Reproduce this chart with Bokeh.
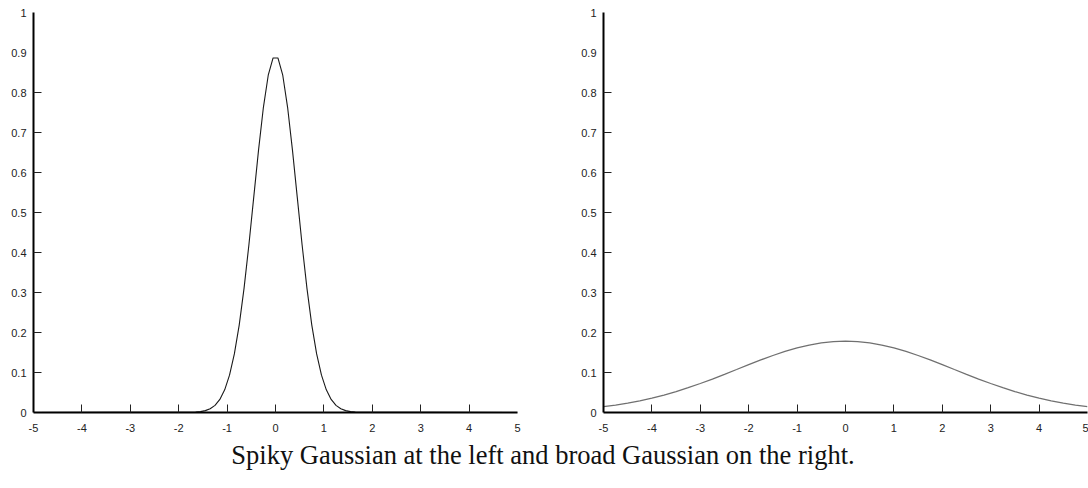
from bokeh.plotting import figure
from bokeh.layouts import column, row
from bokeh.models import Range1d, FixedTicker, CustomJSTickFormatter, Div
from bokeh.embed import file_html
from bokeh.resources import INLINE

# ---- data ----
spiky_x = [-5.0, -1.65, -1.55, -1.45, -1.35, -1.25, -1.15, -1.05, -0.95, -0.85, -0.75,
           -0.65, -0.55, -0.45, -0.35, -0.25, -0.15, -0.05, 0.05, 0.15, 0.25, 0.35,
           0.45, 0.55, 0.65, 0.75, 0.85, 0.95, 1.05, 1.15, 1.25, 1.35, 1.45, 1.55, 1.65, 5.0]
spiky_y = [0.0, 0.001, 0.0022, 0.0047, 0.0094, 0.0179, 0.0327, 0.0567, 0.0934, 0.1465, 0.2186,
           0.3102, 0.4187, 0.5377, 0.6567, 0.763, 0.8432, 0.8864, 0.8864, 0.8432, 0.763, 0.6567,
           0.5377, 0.4187, 0.3102, 0.2186, 0.1465, 0.0934, 0.0567, 0.0327, 0.0179, 0.0094, 0.0047,
           0.0022, 0.001, 0.0]

broad_x = [-5.0, -4.75, -4.5, -4.25, -4.0, -3.75, -3.5, -3.25, -3.0, -2.75, -2.5, -2.25, -2.0,
           -1.75, -1.5, -1.25, -1.0, -0.75, -0.5, -0.25, 0.0, 0.25, 0.5, 0.75, 1.0, 1.25, 1.5,
           1.75, 2.0, 2.25, 2.5, 2.75, 3.0, 3.25, 3.5, 3.75, 4.0, 4.25, 4.5, 4.75, 5.0]
broad_y = [0.0146, 0.0187, 0.0235, 0.0293, 0.036, 0.0437, 0.0524, 0.062, 0.0725, 0.0837, 0.0955,
           0.1075, 0.1196, 0.1313, 0.1425, 0.1526, 0.1614, 0.1686, 0.174, 0.1773, 0.1784, 0.1773,
           0.174, 0.1686, 0.1614, 0.1526, 0.1425, 0.1313, 0.1196, 0.1075, 0.0955, 0.0837, 0.0725,
           0.062, 0.0524, 0.0437, 0.036, 0.0293, 0.0235, 0.0187, 0.0146]

x_label_ticks = [-5, -4, -3, -2, -1, 0, 1, 2, 3, 4, 5]
x_mark_ticks = [-4, -3, -2, -1, 0, 1, 2, 3, 4]
y_label_ticks = [0, 0.1, 0.2, 0.3, 0.4, 0.5, 0.6, 0.7, 0.8, 0.9, 1]
y_mark_ticks = [0.1, 0.2, 0.3, 0.4, 0.5, 0.6, 0.7, 0.8]

caption = "Spiky Gaussian at the left and broad Gaussian on the right."

LABEL_FONT = "Liberation Sans"


def make_fig(width, left, right):
    p = figure(width=width, height=442, output_backend="svg", toolbar_location=None,
               x_range=Range1d(-5, 5), y_range=Range1d(0, 1),
               min_border_left=left, min_border_right=right,
               min_border_top=12, min_border_bottom=30)
    p.outline_line_color = None
    p.grid.visible = False
    fmt = CustomJSTickFormatter(code="return String(Math.round(tick*10)/10);")
    p.xaxis.ticker = FixedTicker(ticks=x_label_ticks, minor_ticks=x_mark_ticks)
    p.yaxis.ticker = FixedTicker(ticks=y_label_ticks, minor_ticks=y_mark_ticks)
    p.xaxis.formatter = fmt
    p.yaxis.formatter = fmt
    for ax in (p.xaxis, p.yaxis):
        ax.axis_line_color = "#000000"
        ax.axis_line_width = 2
        ax.major_tick_in = 0
        ax.major_tick_out = 0
        ax.minor_tick_in = 8
        ax.minor_tick_out = 0
        ax.minor_tick_line_color = "#222222"
        ax.minor_tick_line_width = 1
        ax.major_label_text_font = LABEL_FONT
        ax.major_label_text_font_size = "11px"
        ax.major_label_text_color = "#222222"
    p.xaxis.major_label_standoff = 11
    p.yaxis.major_label_standoff = 7
    return p


p1 = make_fig(540, 33, 23)
p1.line(spiky_x, spiky_y, line_color="#1a1a1a", line_width=1.1)

p2 = make_fig(548, 63, 1)
p2.line(broad_x, broad_y, line_color="#707070", line_width=1.3)

cap = Div(text=caption, width=1076, height=32,
          styles={"text-align": "center", "font-family": "'Liberation Serif', 'Times New Roman', serif",
                  "font-size": "26.5px", "color": "#111111", "line-height": "16px"})

layout = column(row(p1, p2), cap)

open("out.html", "w").write(file_html(layout, INLINE))
